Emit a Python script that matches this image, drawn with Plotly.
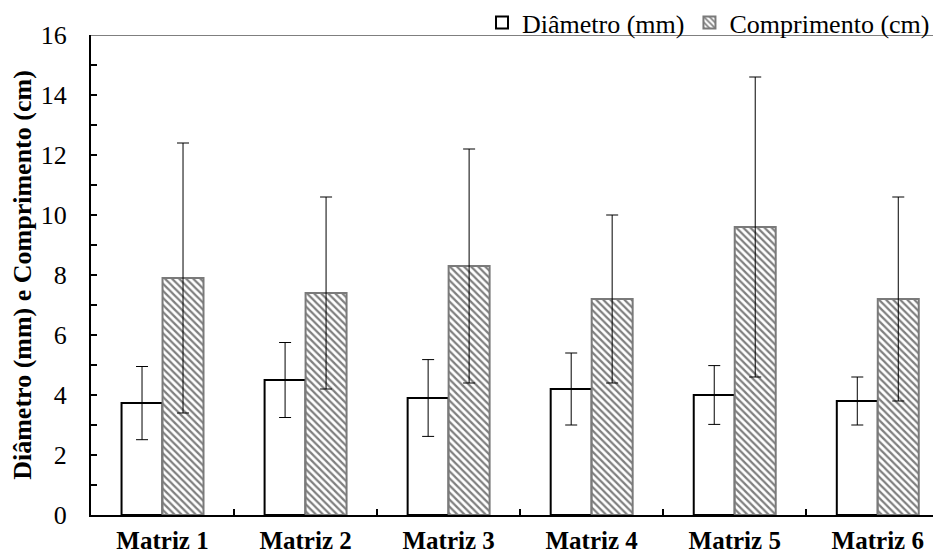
import plotly.graph_objects as go

categories = ["Matriz 1", "Matriz 2", "Matriz 3", "Matriz 4", "Matriz 5", "Matriz 6"]
diametro = [3.73, 4.50, 3.90, 4.20, 4.00, 3.80]
diametro_err = [1.22, 1.25, 1.28, 1.20, 0.98, 0.80]
comprimento = [7.90, 7.40, 8.30, 7.20, 9.60, 7.20]
comprimento_err = [4.50, 3.20, 3.90, 2.80, 5.00, 3.40]

FONT = "Liberation Serif"

fig = go.Figure()
fig.add_trace(go.Bar(
    name="Diâmetro (mm)", x=categories, y=diametro,
    marker=dict(color="white", line=dict(color="black", width=2)),
    error_y=dict(type="data", array=diametro_err, color="black", thickness=1, width=6),
))
fig.add_trace(go.Bar(
    name="Comprimento (cm)", x=categories, y=comprimento,
    marker=dict(color="white", line=dict(color="#7a7a7a", width=2),
                pattern=dict(shape="\\", fgcolor="black", bgcolor="white", size=5, solidity=0.45)),
    error_y=dict(type="data", array=comprimento_err, color="black", thickness=1, width=6),
))

# page body has an 8px default margin: figure is sized/offset to compensate
fig.update_layout(
    width=933, height=549,
    margin=dict(l=83, r=6, t=27, b=42, autoexpand=False),
    paper_bgcolor="white", plot_bgcolor="white",
    barmode="group", bargap=0.427, bargroupgap=0,
    font=dict(family=FONT, color="black", size=26),
    showlegend=True,
    legend=dict(orientation="h", x=1, xanchor="right", xref="paper",
                y=0.977, yanchor="bottom", yref="paper",
                font=dict(family=FONT, size=26), bgcolor="rgba(0,0,0,0)", itemwidth=30,
                tracegroupgap=0),
    xaxis=dict(range=[-0.5, 5.40], showline=True, linecolor="black", linewidth=2,
               ticks="inside", tickson="boundaries", ticklen=6, tickwidth=2, tickcolor="black",
               ticklabelstandoff=2,
               tickfont=dict(family=FONT, size=25, weight="bold"), showgrid=False, zeroline=False),
    yaxis=dict(range=[0, 16], dtick=2, showline=True, linecolor="black", linewidth=2,
               ticks="inside", ticklen=6, tickwidth=2, tickcolor="black",
               ticklabelstandoff=17,
               minor=dict(dtick=1, ticks="inside", ticklen=6, tickwidth=2, tickcolor="black"),
               showgrid=False, zeroline=False, tickfont=dict(family=FONT, size=26),
               title=dict(text="<b>Diâmetro (mm) e Comprimento (cm)</b>",
                          font=dict(family=FONT, size=26), standoff=4)),
    shapes=[dict(type="line", xref="paper", yref="y", x0=0, x1=1, y0=16, y1=16,
                 line=dict(color="black", width=1))],
)

fig.write_html("out.html")
